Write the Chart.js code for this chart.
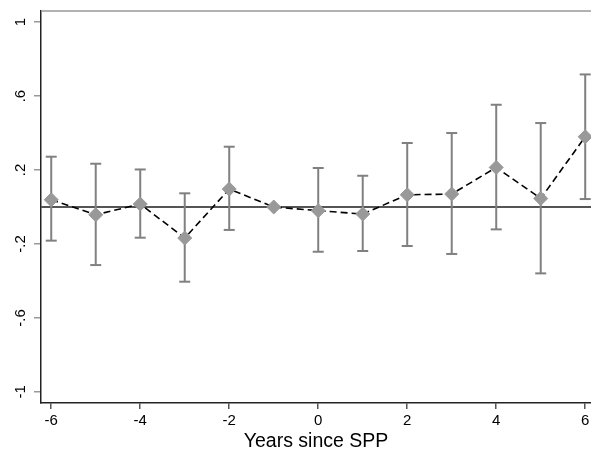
<!DOCTYPE html>
<html>
<head>
<meta charset="utf-8">
<script src="https://cdn.jsdelivr.net/npm/chart.js@4/dist/chart.umd.min.js"></script>
<style>
  html, body { margin: 0; padding: 0; background: #ffffff; }
  #wrap { width: 591px; height: 453px; position: relative; }
</style>
</head>
<body>
<div id="wrap"><canvas id="c"></canvas></div>
<script>
// ---- data ----
const years    = [-6, -5, -4, -3, -2, -1, 0, 1, 2, 3, 4, 5, 6];
const estimate = [0.039, -0.042, 0.016, -0.168, 0.097, 0, -0.020, -0.038, 0.066, 0.070, 0.214, 0.046, 0.380];
const ciLow    = [-0.182, -0.314, -0.166, -0.404, -0.124, null, -0.242, -0.238, -0.211, -0.254, -0.121, -0.359, 0.043];
const ciHigh   = [0.272, 0.234, 0.203, 0.074, 0.326, null, 0.211, 0.169, 0.346, 0.400, 0.553, 0.454, 0.717];
const xTicks   = [-6, -4, -2, 0, 2, 4, 6];
const yTicks   = [-1, -0.6, -0.2, 0.2, 0.6, 1];
const yTickLabels = ['-1', '-.6', '-.2', '.2', '.6', '1'];
const xTitle   = 'Years since SPP';

const X_MIN = -6.23, X_MAX = 6.13, Y_MIN = -1.06, Y_MAX = 1.06;

const datasets = [];
// point estimates with dashed connecting line
datasets.push({
  data: years.map((x, i) => ({ x: x, y: estimate[i] })),
  borderColor: '#000000',
  borderWidth: 1.6,
  borderDash: [7, 4],
  pointStyle: 'rectRot',
  pointRadius: 7,
  pointBackgroundColor: '#999999',
  pointBorderColor: '#999999',
  pointBorderWidth: 1,
  clip: false,
  order: 1
});
// confidence interval caps
years.forEach((x, i) => {
  if (ciLow[i] === null) return;
  datasets.push({
    data: [{ x: x, y: ciLow[i] }, { x: x, y: ciHigh[i] }],
    borderColor: '#808080',
    borderWidth: 2,
    pointStyle: 'line',
    pointRadius: 5.5,
    pointBorderColor: '#808080',
    pointBorderWidth: 2,
    clip: false,
    order: 2
  });
});
// zero reference line
datasets.push({
  data: [{ x: X_MIN, y: 0 }, { x: X_MAX, y: 0 }],
  borderColor: '#555555',
  borderWidth: 1.8,
  pointRadius: 0,
  order: 3
});

const decor = {
  id: 'decor',
  afterDraw(chart) {
    const ctx = chart.ctx;
    const ca = chart.chartArea;
    const ys = chart.scales.y;
    ctx.save();
    // top border of plot region
    ctx.strokeStyle = '#999999';
    ctx.lineWidth = 1.5;
    ctx.beginPath();
    ctx.moveTo(ca.left, ca.top);
    ctx.lineTo(ca.right, ca.top);
    ctx.stroke();
    // rotated y tick labels
    ctx.fillStyle = '#000000';
    ctx.font = '15px Arial, "Liberation Sans", sans-serif';
    ctx.textAlign = 'center';
    ctx.textBaseline = 'middle';
    yTicks.forEach((v, i) => {
      const py = ys.getPixelForValue(v);
      ctx.save();
      ctx.translate(21, py);
      ctx.rotate(-Math.PI / 2);
      ctx.fillText(yTickLabels[i], 0, 0);
      ctx.restore();
    });
    ctx.restore();
  }
};

new Chart(document.getElementById('c'), {
  type: 'line',
  data: { datasets: datasets },
  options: {
    responsive: true,
    maintainAspectRatio: false,
    animation: false,
    events: [],
    layout: { autoPadding: false, padding: { top: 11, left: 0, right: 0, bottom: 0 } },
    plugins: { legend: { display: false }, tooltip: { enabled: false } },
    scales: {
      x: {
        type: 'linear',
        min: X_MIN,
        max: X_MAX,
        afterBuildTicks: (s) => { s.ticks = xTicks.map(v => ({ value: v })); },
        afterFit: (s) => { s.height = 50; s.paddingLeft = 0; s.paddingRight = 0; },
        ticks: {
          color: '#000000',
          font: { family: 'Arial, "Liberation Sans", sans-serif', size: 15 },
          padding: 3,
          maxRotation: 0,
          autoSkip: false,
          callback: (v) => String(v)
        },
        grid: { drawOnChartArea: false, drawTicks: true, tickLength: 6, color: '#555555', lineWidth: 1.5 },
        border: { display: true, color: '#222222', width: 1.5 },
        title: {
          display: true,
          text: xTitle,
          color: '#000000',
          font: { family: 'Arial, "Liberation Sans", sans-serif', size: 19.5 },
          padding: { top: 1, bottom: 0 }
        }
      },
      y: {
        type: 'linear',
        min: Y_MIN,
        max: Y_MAX,
        afterBuildTicks: (s) => { s.ticks = yTicks.map(v => ({ value: v })); },
        afterFit: (s) => { s.width = 41; s.paddingTop = 0; s.paddingBottom = 0; },
        ticks: { display: false },
        grid: { drawOnChartArea: false, drawTicks: true, tickLength: 7, color: '#999999', lineWidth: 1.5 },
        border: { display: true, color: '#222222', width: 1.5 }
      }
    }
  },
  plugins: [decor]
});
</script>
</body>
</html>
